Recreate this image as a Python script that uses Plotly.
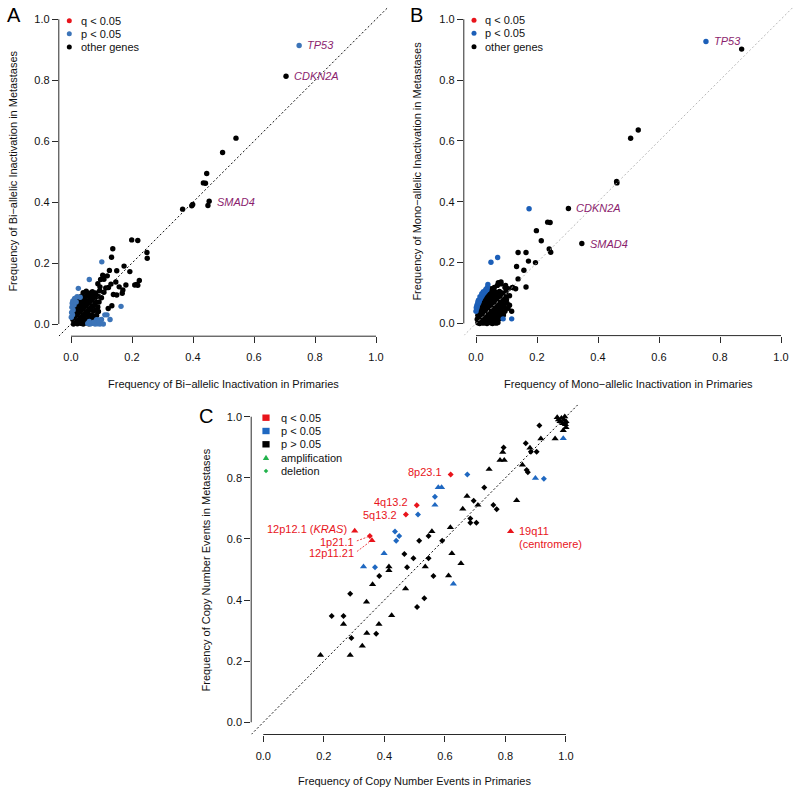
import plotly.graph_objects as go

W, H = 800, 793
FONT = "Liberation Sans, Arial, Helvetica, sans-serif"

# ---------------- Panel A: bi-allelic inactivation ----------------
a_blue_x = [0.748, 0.101, 0.060, 0.024, 0.164, 0.128, 0.118, 0.111, 0.030, 0.020,
            0.012, 0.006, 0.004, 0.010, 0.003, 0.007, 0.002, 0.005, 0.001, 0.017,
            0.055, 0.063, 0.071, 0.079, 0.087, 0.095, 0.084, 0.092, 0.100, 0.060,
            0.075, 0.106]
a_blue_y = [0.914, 0.204, 0.146, 0.117, 0.058, 0.015, 0.030, 0.030, 0.088, 0.090,
            0.084, 0.076, 0.068, 0.062, 0.055, 0.046, 0.038, 0.030, 0.022, 0.072,
            0.002, 0.000, 0.002, 0.000, 0.001, 0.000, 0.014, 0.013, 0.015, 0.008,
            0.006, 0.000]
a_black_x = [0.705, 0.541, 0.497, 0.445, 0.434, 0.441, 0.453, 0.449, 0.399, 0.396,
             0.366, 0.199, 0.219, 0.249, 0.250, 0.137, 0.133, 0.174, 0.150, 0.126,
             0.193, 0.224, 0.215, 0.209, 0.219, 0.097, 0.108, 0.170, 0.150, 0.139,
             0.134, 0.122, 0.168, 0.114, 0.123, 0.131, 0.147, 0.158, 0.180, 0.104,
             0.119, 0.088, 0.095,
             0.008, 0.014, 0.021, 0.027, 0.033, 0.040, 0.046, 0.052, 0.058, 0.065, 0.072,
             0.006, 0.012, 0.018, 0.025, 0.031, 0.037, 0.044, 0.050, 0.057, 0.063, 0.070, 0.078,
             0.009, 0.016, 0.022, 0.029, 0.035, 0.042, 0.048, 0.055, 0.061, 0.068, 0.076, 0.084,
             0.011, 0.018, 0.025, 0.032, 0.038, 0.045, 0.052, 0.059, 0.066, 0.074, 0.082, 0.090,
             0.014, 0.021, 0.028, 0.035, 0.042, 0.049, 0.056, 0.063, 0.071, 0.079, 0.088,
             0.020, 0.027, 0.034, 0.041, 0.048, 0.056, 0.063, 0.071, 0.080, 0.092,
             0.028, 0.036, 0.044, 0.052, 0.060, 0.069, 0.078, 0.088, 0.100,
             0.040, 0.050, 0.060, 0.070, 0.081, 0.094, 0.108]
a_black_y = [0.813, 0.610, 0.563, 0.494, 0.463, 0.462, 0.403, 0.389, 0.392, 0.388,
             0.377, 0.276, 0.274, 0.235, 0.216, 0.247, 0.219, 0.190, 0.175, 0.176,
             0.172, 0.143, 0.130, 0.128, 0.127, 0.146, 0.147, 0.112, 0.095, 0.097,
             0.060, 0.051, 0.101, 0.118, 0.120, 0.131, 0.138, 0.122, 0.128, 0.160,
             0.158, 0.132, 0.122,
             0.000, 0.004, 0.001, 0.006, 0.002, 0.000, 0.005, 0.003, 0.001, 0.004, 0.002,
             0.015, 0.012, 0.018, 0.014, 0.019, 0.013, 0.017, 0.012, 0.016, 0.019, 0.014, 0.011,
             0.028, 0.032, 0.026, 0.031, 0.027, 0.033, 0.029, 0.034, 0.027, 0.030, 0.025, 0.028,
             0.042, 0.047, 0.041, 0.046, 0.043, 0.048, 0.040, 0.045, 0.049, 0.043, 0.046, 0.041,
             0.058, 0.062, 0.056, 0.063, 0.059, 0.064, 0.057, 0.061, 0.058, 0.063, 0.056,
             0.072, 0.077, 0.071, 0.078, 0.073, 0.076, 0.071, 0.079, 0.074, 0.072,
             0.088, 0.092, 0.086, 0.094, 0.089, 0.093, 0.087, 0.091, 0.086,
             0.103, 0.108, 0.101, 0.106, 0.102, 0.109, 0.104]
a_red_x = []
a_red_y = []
# labelled genes: (name, series, index)
a_labels = [("TP53", "blue", 0), ("CDKN2A", "black", 0), ("SMAD4", "black", 6)]

# ---------------- Panel B: mono-allelic inactivation ----------------
b_blue_x = [0.754, 0.174, 0.049, 0.071, 0.039, 0.037, 0.032, 0.089, 0.117,
            0.000, 0.002, 0.004, 0.006, 0.009, 0.011, 0.014, 0.017, 0.020, 0.023,
            0.027, 0.031, 0.036, 0.003, 0.008, 0.013, 0.019, 0.001, 0.006, 0.024]
b_blue_y = [0.927, 0.377, 0.201, 0.217, 0.128, 0.118, 0.112, 0.015, 0.015,
            0.040, 0.048, 0.055, 0.062, 0.068, 0.074, 0.080, 0.086, 0.091, 0.096,
            0.101, 0.106, 0.111, 0.060, 0.076, 0.088, 0.098, 0.052, 0.070, 0.104]
b_black_x = [0.871, 0.532, 0.507, 0.461, 0.462, 0.303, 0.347, 0.235, 0.243, 0.198,
             0.214, 0.240, 0.245, 0.138, 0.164, 0.172, 0.195, 0.133, 0.157, 0.138,
             0.164, 0.117, 0.106, 0.130, 0.073, 0.082, 0.110, 0.105, 0.120, 0.097,
             0.006, 0.012, 0.018, 0.024, 0.030, 0.036, 0.042, 0.048, 0.054, 0.060, 0.066, 0.072,
             0.004, 0.010, 0.016, 0.022, 0.028, 0.034, 0.040, 0.046, 0.052, 0.058, 0.064, 0.070, 0.078,
             0.006, 0.012, 0.018, 0.024, 0.030, 0.036, 0.042, 0.048, 0.054, 0.060, 0.067, 0.074, 0.082, 0.090,
             0.008, 0.014, 0.020, 0.026, 0.032, 0.038, 0.044, 0.050, 0.056, 0.062, 0.069, 0.076, 0.084, 0.095,
             0.012, 0.018, 0.024, 0.030, 0.036, 0.042, 0.048, 0.054, 0.060, 0.067, 0.074, 0.082, 0.092,
             0.016, 0.022, 0.028, 0.034, 0.040, 0.046, 0.052, 0.058, 0.065, 0.072, 0.080, 0.090, 0.102,
             0.022, 0.028, 0.034, 0.040, 0.046, 0.052, 0.059, 0.066, 0.073, 0.081, 0.090, 0.100,
             0.028, 0.035, 0.042, 0.049, 0.056, 0.063, 0.070, 0.078, 0.087, 0.097, 0.110,
             0.036, 0.044, 0.052, 0.060, 0.068, 0.077, 0.087, 0.098,
             0.050, 0.060, 0.070, 0.082, 0.095, 0.120]
b_black_y = [0.902, 0.636, 0.609, 0.467, 0.462, 0.378, 0.263, 0.333, 0.332, 0.305,
             0.272, 0.245, 0.234, 0.233, 0.233, 0.205, 0.200, 0.187, 0.175, 0.146,
             0.120, 0.040, 0.114, 0.114, 0.134, 0.136, 0.060, 0.050, 0.118, 0.125,
             0.002, 0.000, 0.005, 0.001, 0.004, 0.000, 0.006, 0.002, 0.000, 0.004, 0.001, 0.003,
             0.014, 0.018, 0.012, 0.016, 0.019, 0.013, 0.017, 0.012, 0.018, 0.015, 0.019, 0.013, 0.016,
             0.027, 0.031, 0.025, 0.029, 0.032, 0.026, 0.030, 0.024, 0.028, 0.031, 0.026, 0.029, 0.025, 0.028,
             0.039, 0.043, 0.037, 0.041, 0.044, 0.038, 0.042, 0.036, 0.040, 0.044, 0.038, 0.042, 0.037, 0.040,
             0.052, 0.056, 0.050, 0.055, 0.051, 0.057, 0.053, 0.049, 0.055, 0.051, 0.056, 0.050, 0.054,
             0.064, 0.068, 0.062, 0.067, 0.063, 0.069, 0.065, 0.061, 0.067, 0.063, 0.068, 0.062, 0.066,
             0.076, 0.080, 0.075, 0.079, 0.077, 0.081, 0.076, 0.080, 0.075, 0.079, 0.076, 0.078,
             0.088, 0.092, 0.087, 0.093, 0.089, 0.094, 0.088, 0.092, 0.090, 0.087, 0.091,
             0.100, 0.104, 0.101, 0.106, 0.102, 0.105, 0.100, 0.103,
             0.114, 0.118, 0.125, 0.130, 0.118, 0.118]
b_red_x = []
b_red_y = []
b_labels = [("TP53", "blue", 0), ("CDKN2A", "black", 5), ("SMAD4", "black", 6)]

# ---------------- Panel C: copy number events ----------------
c_red_amp_x = [0.302, 0.359, 0.817]
c_red_amp_y = [0.626, 0.595, 0.625]
c_red_del_x = [0.619, 0.507, 0.471, 0.352]
c_red_del_y = [0.811, 0.710, 0.680, 0.610]
c_blue_amp_x = [0.578, 0.589, 0.567, 0.399, 0.331, 0.628, 0.899, 0.991]
c_blue_amp_y = [0.769, 0.769, 0.711, 0.553, 0.509, 0.453, 0.799, 0.929]
c_blue_del_x = [0.674, 0.567, 0.511, 0.435, 0.449, 0.439, 0.369, 0.927]
c_blue_del_y = [0.811, 0.738, 0.680, 0.624, 0.610, 0.594, 0.507, 0.797]
c_black_amp_x = [0.189, 0.287, 0.327, 0.265, 0.342, 0.382, 0.341, 0.361, 0.424, 0.470,
                 0.415, 0.415, 0.535, 0.557, 0.623, 0.612, 0.653, 0.618, 0.659, 0.673,
                 0.709, 0.746, 0.791, 0.782, 0.796, 0.837, 0.856, 0.917, 0.964, 0.881,
                 0.971, 0.985, 0.993, 1.000, 0.980, 0.989, 0.998, 1.000, 0.991, 0.975, 0.996]
c_black_amp_y = [0.220, 0.220, 0.250, 0.321, 0.292, 0.321, 0.394, 0.451, 0.350, 0.437,
                 0.509, 0.497, 0.509, 0.625, 0.553, 0.480, 0.520, 0.638, 0.698, 0.740,
                 0.711, 0.828, 0.884, 0.858, 0.858, 0.726, 0.842, 0.928, 0.928, 0.898,
                 0.998, 0.995, 0.990, 0.985, 0.985, 0.978, 0.975, 0.965, 0.955, 0.990, 1.000]
c_black_del_x = [0.226, 0.265, 0.287, 0.291, 0.373, 0.383, 0.466, 0.475, 0.496, 0.508,
                 0.532, 0.515, 0.546, 0.546, 0.562, 0.591, 0.730, 0.695, 0.684, 0.684,
                 0.704, 0.760, 0.771, 0.794, 0.867, 0.884, 0.903, 0.912, 0.870, 0.874, 0.999]
c_black_del_y = [0.348, 0.348, 0.421, 0.276, 0.290, 0.479, 0.551, 0.507, 0.537, 0.377,
                 0.406, 0.594, 0.610, 0.537, 0.479, 0.594, 0.768, 0.725, 0.667, 0.653,
                 0.653, 0.711, 0.697, 0.899, 0.913, 0.885, 0.885, 0.971, 0.826, 0.818, 0.980]

tick_vals = [0.0, 0.2, 0.4, 0.6, 0.8, 1.0]
tick_text = ["0.0", "0.2", "0.4", "0.6", "0.8", "1.0"]

# ---------------- styles ----------------
BLACK = "#000000"
A_BLUE = "#3C74B8"
B_BLUE = "#1C5FB8"
C_BLUE = "#1F68C1"
RED = "#E8141B"
GREEN = "#22B24C"
PURPLE = "#8B1E6E"
AX = "#2a2a2a"


def px_x(p):
    return p / W


def px_y(p):
    return 1 - p / H


panels = {
    "A": dict(x="x", y="y", xd=(58.8, 388.2), yd=(7.1, 336.2)),
    "B": dict(x="x2", y="y2", xd=(463.8, 793.2), yd=(7.1, 335.6)),
    "C": dict(x="x3", y="y3", xd=(251.2, 578.1), yd=(404.5, 734.5)),
}

fig = go.Figure()


def add_pts(panel, xs, ys, color, symbol="circle", size=5.4):
    p = panels[panel]
    fig.add_trace(go.Scatter(x=xs, y=ys, mode="markers", xaxis=p["x"], yaxis=p["y"],
                             marker=dict(color=color, size=size, symbol=symbol,
                                         line=dict(width=0)),
                             hoverinfo="x+y", showlegend=False))


add_pts("A", a_black_x, a_black_y, BLACK)
add_pts("A", a_blue_x, a_blue_y, A_BLUE)
add_pts("A", a_red_x, a_red_y, RED)
add_pts("B", b_black_x, b_black_y, BLACK)
add_pts("B", b_blue_x, b_blue_y, B_BLUE)
add_pts("B", b_red_x, b_red_y, RED)

TRI, DIA = 6.3, 4.6
add_pts("C", c_black_amp_x, c_black_amp_y, BLACK, "triangle-up", TRI)
add_pts("C", c_black_del_x, c_black_del_y, BLACK, "diamond", DIA)
add_pts("C", c_blue_amp_x, c_blue_amp_y, C_BLUE, "triangle-up", TRI)
add_pts("C", c_blue_del_x, c_blue_del_y, C_BLUE, "diamond", DIA)
add_pts("C", c_red_amp_x, c_red_amp_y, RED, "triangle-up", TRI)
add_pts("C", c_red_del_x, c_red_del_y, RED, "diamond", DIA)

layout = dict(width=W, height=H, margin=dict(l=0, r=0, t=0, b=0),
              paper_bgcolor="white", plot_bgcolor="white", showlegend=False,
              font=dict(family=FONT, size=11, color="#111"))

shapes = []
annotations = []

for name, p in panels.items():
    xk = "xaxis" + p["x"][1:]
    yk = "yaxis" + p["y"][1:]
    common = dict(range=[-0.04, 1.04], tickvals=tick_vals, ticktext=tick_text,
                  ticks="outside", ticklen=6, tickwidth=1, tickcolor=AX,
                  showline=False, showgrid=False, zeroline=False, fixedrange=True,
                  tickfont=dict(size=11, color="#111", family=FONT))
    layout[xk] = dict(common, domain=[px_x(p["xd"][0]), px_x(p["xd"][1])],
                      anchor=p["y"], ticklabelstandoff=5)
    layout[yk] = dict(common, domain=[px_y(p["yd"][1]), px_y(p["yd"][0])],
                      anchor=p["x"])
    # R-style axis lines spanning only the tick range
    shapes.append(dict(type="line", xref=p["x"], yref=p["y"] + " domain",
                       x0=0, x1=1, y0=0, y1=0, line=dict(color=AX, width=1)))
    shapes.append(dict(type="line", xref=p["x"] + " domain", yref=p["y"],
                       x0=0, x1=0, y0=0, y1=1, line=dict(color=AX, width=1)))
    # identity line
    shapes.append(dict(type="line", xref=p["x"], yref=p["y"],
                       x0=-0.04, y0=-0.04, x1=1.04, y1=1.04,
                       line=dict(color="#b8b8b8" if name == "B" else "#111",
                                 width=1, dash="2px,2.2px")))

# axis titles
titles = [
    ("Frequency of Bi\u2212allelic Inactivation in Primaries", 223.5, 384, 0),
    ("Frequency of Bi\u2212allelic Inactivation in Metastases", 13, 171.6, -90),
    ("Frequency of Mono\u2212allelic Inactivation in Primaries", 628.5, 384, 0),
    ("Frequency of Mono\u2212allelic Inactivation in Metastases", 417, 171.6, -90),
    ("Frequency of Copy Number Events in Primaries", 414.7, 781, 0),
    ("Frequency of Copy Number Events in Metastases", 205, 569.5, -90),
]
for t, x, y, ang in titles:
    annotations.append(dict(text=t, xref="paper", yref="paper", x=px_x(x), y=px_y(y),
                            xanchor="center", yanchor="middle", showarrow=False,
                            textangle=ang, font=dict(size=11, color="#111")))

# panel letters
for t, x, y in [("A", 13.5, 15), ("B", 416, 15), ("C", 205.5, 415.5)]:
    annotations.append(dict(text=t, xref="paper", yref="paper", x=px_x(x), y=px_y(y),
                            xanchor="center", yanchor="middle", showarrow=False,
                            font=dict(size=20, color="#000")))


# legends
def legend_shape(kind, cx, cy, color):
    base = dict(xref="paper", yref="paper", xsizemode="pixel", ysizemode="pixel",
                xanchor=px_x(cx), yanchor=px_y(cy), fillcolor=color,
                line=dict(width=0))
    if kind == "dot":
        base.update(type="circle", x0=-2.5, x1=2.5, y0=-2.5, y1=2.5)
    elif kind == "square":
        base.update(type="rect", x0=-3.6, x1=3.6, y0=-3.2, y1=3.2)
    elif kind == "tri":
        base.update(type="path", path="M-3.2,-2.4 L3.2,-2.4 L0,3.0 Z")
    elif kind == "dia":
        base.update(type="path", path="M0,2.3 L2.3,0 L0,-2.3 L-2.3,0 Z")
    shapes.append(base)


def legend_text(t, x, y):
    annotations.append(dict(text=t, xref="paper", yref="paper", x=px_x(x), y=px_y(y),
                            xanchor="left", yanchor="middle", showarrow=False,
                            font=dict(size=11, color="#111")))


for (dx, tx, rows, blue) in [(69.3, 78.7, (20.7, 33.7, 47.0), A_BLUE),
                             (474.0, 483.3, (20.3, 33.3, 46.7), B_BLUE)]:
    for (lab, col), yy in zip([("q < 0.05", RED), ("p < 0.05", blue), ("other genes", BLACK)], rows):
        legend_shape("dot", dx, yy, col)
        legend_text(lab, tx, yy)

c_leg = [("square", RED, "q < 0.05", 417.7), ("square", C_BLUE, "p < 0.05", 431.0),
         ("square", BLACK, "p > 0.05", 444.3), ("tri", GREEN, "amplification", 457.7),
         ("dia", GREEN, "deletion", 471.0)]
for kind, col, lab, yy in c_leg:
    legend_shape(kind, 266, yy, col)
    legend_text(lab, 279.3, yy)

# gene labels A / B
series = {"A": {"blue": (a_blue_x, a_blue_y), "black": (a_black_x, a_black_y)},
          "B": {"blue": (b_blue_x, b_blue_y), "black": (b_black_x, b_black_y)}}
for pn, labs in [("A", a_labels), ("B", b_labels)]:
    p = panels[pn]
    for gene, ser, idx in labs:
        xs, ys = series[pn][ser]
        annotations.append(dict(text="<i>%s</i>" % gene, xref=p["x"], yref=p["y"],
                                x=xs[idx], y=ys[idx], xanchor="left", yanchor="middle",
                                xshift=6, yshift=-1 if gene == "SMAD4" else 0,
                                showarrow=False, font=dict(size=11, color=PURPLE)))

# region labels C
pc = panels["C"]
c_labels = [
    ("8p23.1", c_red_del_x[0], c_red_del_y[0], "right", -7, 2),
    ("4q13.2", c_red_del_x[1], c_red_del_y[1], "right", -7, 3),
    ("5q13.2", c_red_del_x[2], c_red_del_y[2], "right", -7, 0),
    ("12p12.1 (<i>KRAS</i>)", c_red_amp_x[0], c_red_amp_y[0], "right", -6, 2),
    ("1p21.1", c_red_del_x[3], c_red_del_y[3], "right", -14, -6),
    ("12p11.21", c_red_amp_x[1], c_red_amp_y[1], "right", -16, -13),
    ("19q11", c_red_amp_x[2], c_red_amp_y[2], "left", 6, 0),
    ("(centromere)", c_red_amp_x[2], c_red_amp_y[2], "left", 6, -13),
]
for t, x, y, anc, xs_, ys_ in c_labels:
    annotations.append(dict(text=t, xref=pc["x"], yref=pc["y"], x=x, y=y,
                            xanchor=anc, yanchor="middle", xshift=xs_, yshift=ys_,
                            showarrow=False, font=dict(size=11, color=RED)))

# dashed leader lines
for x, y, (x0, y0, x1, y1) in [(c_red_del_x[3], c_red_del_y[3], (-13, -5, -2, -1)),
                               (c_red_amp_x[1], c_red_amp_y[1], (-15, -11, -3, -2))]:
    shapes.append(dict(type="line", xref=pc["x"], yref=pc["y"], xsizemode="pixel",
                       ysizemode="pixel", xanchor=x, yanchor=y, x0=x0, y0=y0, x1=x1, y1=y1,
                       line=dict(color=RED, width=0.8, dash="2px,1.5px")))

layout["shapes"] = shapes
layout["annotations"] = annotations
fig.update_layout(**layout)

# remove the browser's default page margin so the figure sits at (0, 0)
reset_margin = ("document.body.style.margin='0';document.body.style.padding='0';"
                "document.documentElement.style.margin='0';"
                "document.documentElement.style.overflow='hidden';")
fig.write_html("out.html", post_script=reset_margin,
               config={"displayModeBar": False, "staticPlot": True})
